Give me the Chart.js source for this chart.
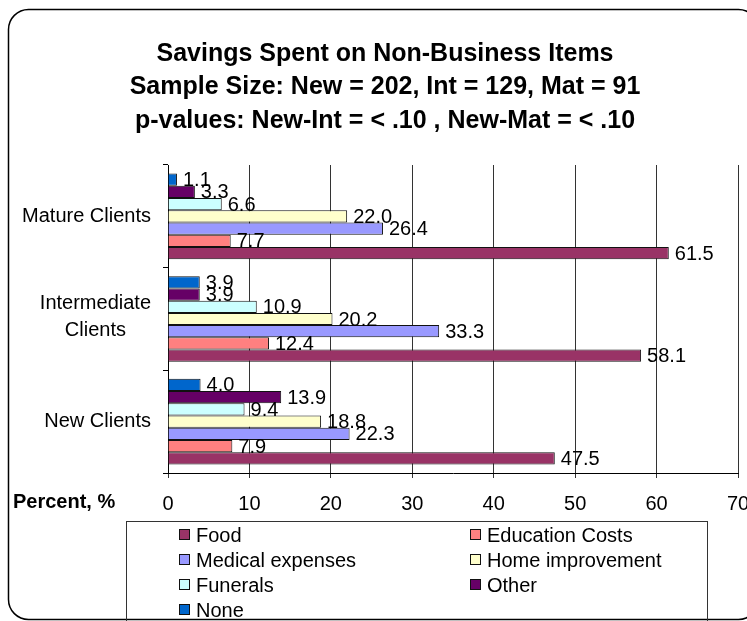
<!DOCTYPE html>
<html>
<head>
<meta charset="utf-8">
<script src="https://cdn.jsdelivr.net/npm/chart.js@4"></script>
<style>
html, body { margin: 0; padding: 0; background: #fff; overflow: hidden; }
#wrap { width: 747px; height: 621px; overflow: hidden; }
</style>
</head>
<body>
<div id="wrap"><canvas id="chart" width="770" height="621"></canvas></div>
<script>
// categories top to bottom
var categories = ['Mature Clients', ['Intermediate', 'Clients'], 'New Clients'];

// series values, same order as categories
var food = [61.5, 58.1, 47.5];
var education = [7.7, 12.4, 7.9];
var medical = [26.4, 33.3, 22.3];
var home = [22.0, 20.2, 18.8];
var funerals = [6.6, 10.9, 9.4];
var other = [3.3, 3.9, 13.9];
var none = [1.1, 3.9, 4.0];

var titleLines = [
    'Savings Spent on Non-Business Items',
    'Sample Size: New = 202, Int = 129, Mat = 91',
    'p-values: New-Int = < .10 , New-Mat = < .10'
];
var axisLabel = 'Percent, %';
var fontFam = '"Liberation Sans", Arial, Helvetica, sans-serif';

Chart.defaults.font.family = fontFam;
Chart.defaults.color = '#000';

// legend order is Food first; bars are drawn top (None) to bottom (Food)
var series = [
    {label: 'Food', data: food, color: '#993366'},
    {label: 'Education Costs', data: education, color: '#FF8080'},
    {label: 'Medical expenses', data: medical, color: '#9999FF'},
    {label: 'Home improvement', data: home, color: '#FFFFCC'},
    {label: 'Funerals', data: funerals, color: '#CCFFFF'},
    {label: 'Other', data: other, color: '#660066'},
    {label: 'None', data: none, color: '#0066CC'}
];

var datasets = series.slice().reverse().map(function(s) {
    return {
        label: s.label,
        data: s.data,
        backgroundColor: s.color,
        borderColor: '#111',
        borderWidth: 1,
        categoryPercentage: 0.835,
        barPercentage: 1.0
    };
});

var extras = {
    id: 'extras',
    beforeDraw: function(chart) {
        var ctx = chart.ctx;
        ctx.save();
        ctx.strokeStyle = '#000';
        ctx.lineWidth = 1.5;
        ctx.beginPath();
        ctx.roundRect(8.5, 9.5, 750, 610, 20);
        ctx.stroke();
        ctx.restore();
    },
    afterDatasetsDraw: function(chart) {
        var ctx = chart.ctx;
        ctx.save();
        ctx.fillStyle = '#000';
        ctx.font = '20px ' + fontFam;
        ctx.textAlign = 'left';
        ctx.textBaseline = 'middle';
        chart.data.datasets.forEach(function(ds, i) {
            var meta = chart.getDatasetMeta(i);
            meta.data.forEach(function(bar, j) {
                ctx.fillText(ds.data[j].toFixed(1), bar.x + 6, bar.y + 1);
            });
        });
        ctx.restore();
    },
    afterDraw: function(chart) {
        var ctx = chart.ctx;
        var yScale = chart.scales.y;
        ctx.save();
        ctx.fillStyle = '#000';
        ctx.textBaseline = 'middle';

        // category labels, multi-line ones centred inside a right-aligned block
        ctx.font = '20px ' + fontFam;
        ctx.textAlign = 'center';
        chart.data.labels.forEach(function(lbl, i) {
            var lines = [].concat(lbl);
            var yc = yScale.getPixelForValue(i);
            var widest = Math.max.apply(null, lines.map(function(l) { return ctx.measureText(l).width; }));
            lines.forEach(function(line, j) {
                var y = yc + (j - (lines.length - 1) / 2) * 27 - (lines.length > 1 ? 2 : 0);
                ctx.fillText(line, 151 - widest / 2, y);
            });
        });

        // axis name
        ctx.font = 'bold 20px ' + fontFam;
        ctx.textAlign = 'left';
        ctx.fillText(axisLabel, 13, 502);

        // legend box, two columns
        ctx.strokeStyle = '#333';
        ctx.lineWidth = 1;
        ctx.strokeRect(126.5, 521.5, 581, 130);
        ctx.font = '20px ' + fontFam;
        var items = chart.data.datasets.slice().reverse();
        items.forEach(function(ds, k) {
            var col = k % 2;
            var row = Math.floor(k / 2);
            var mx = col ? 470 : 179;
            var y = 535 + row * 25;
            ctx.fillStyle = ds.backgroundColor;
            ctx.fillRect(mx + 0.5, y - 5.5, 10, 10);
            ctx.strokeStyle = '#111';
            ctx.strokeRect(mx + 0.5, y - 5.5, 10, 10);
            ctx.fillStyle = '#000';
            ctx.fillText(ds.label, mx + 17, y + 1);
        });
        ctx.restore();
    }
};

var chart = new Chart(document.getElementById('chart'), {
    type: 'bar',
    data: {
        labels: categories,
        datasets: datasets
    },
    options: {
        indexAxis: 'y',
        responsive: false,
        animation: false,
        devicePixelRatio: 1,
        layout: {
            padding: {left: 32, right: 32, top: 0, bottom: 98}
        },
        plugins: {
            legend: {display: false},
            tooltip: {enabled: false},
            title: {
                display: true,
                text: titleLines,
                color: '#000',
                font: {size: 25, weight: 'bold', lineHeight: 1.34},
                padding: {top: 37, bottom: 27.5}
            }
        },
        scales: {
            x: {
                type: 'linear',
                min: 0,
                max: 70,
                ticks: {stepSize: 10, font: {size: 20}, color: '#000', padding: 14},
                grid: {color: '#333', tickLength: 5},
                border: {color: '#000'},
                afterFit: function(scale) { scale.height = 50; }
            },
            y: {
                ticks: {display: false},
                grid: {drawOnChartArea: false, color: '#000', tickLength: 5, offset: true},
                border: {color: '#000'},
                afterFit: function(scale) { scale.width = 136; }
            }
        }
    },
    plugins: [extras]
});
</script>
</body>
</html>
